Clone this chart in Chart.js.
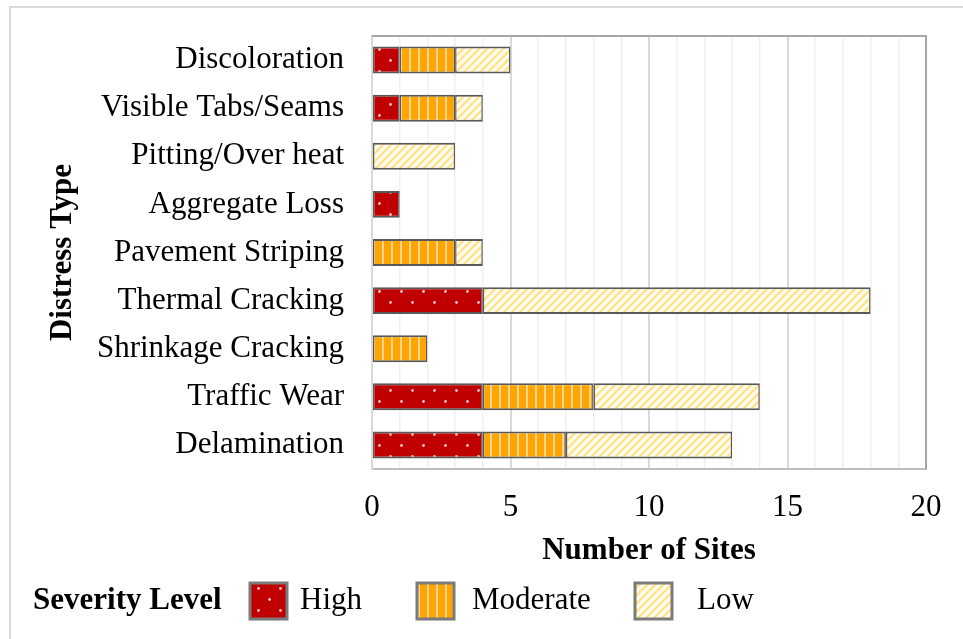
<!DOCTYPE html>
<html>
<head>
<meta charset="utf-8">
<script src="https://cdn.jsdelivr.net/npm/chart.js@4.4.1/dist/chart.umd.min.js"></script>
<style>
  body { margin: 0; background: #fff; }
  canvas { display: block; }
</style>
</head>
<body>
<canvas id="distressChart" width="963" height="639"></canvas>
<script>
// Data
const categories = ['Discoloration', 'Visible Tabs/Seams', 'Pitting/Over heat', 'Aggregate Loss',
    'Pavement Striping', 'Thermal Cracking', 'Shrinkage Cracking', 'Traffic Wear', 'Delamination'];
const highValues = [1, 1, 0, 1, 0, 4, 0, 4, 4];
const moderateValues = [2, 2, 0, 0, 3, 0, 2, 4, 3];
const lowValues = [2, 1, 3, 0, 1, 14, 0, 6, 6];
const severityLabels = ['High', 'Moderate', 'Low'];
const xTickLabels = [0, 5, 10, 15, 20];

const FONT = "'Liberation Serif', 'Times New Roman', serif";

// pattern fills
function makePattern(w, h, draw) {
    const c = document.createElement('canvas');
    c.width = w;
    c.height = h;
    draw(c.getContext('2d'));
    return c.getContext('2d').createPattern(c, 'repeat');
}
const dotsPattern = makePattern(22, 22, g => {
    g.fillStyle = '#c00000';
    g.fillRect(0, 0, 22, 22);
    g.fillStyle = '#f2c0c0';
    [[5.5, 5.5], [16.5, 16.5]].forEach(p => {
        g.beginPath();
        g.arc(p[0], p[1], 1.4, 0, Math.PI * 2);
        g.fill();
    });
});
const stripePattern = makePattern(9, 9, g => {
    g.fillStyle = '#ffa500';
    g.fillRect(0, 0, 9, 9);
    g.fillStyle = '#ffd595';
    g.fillRect(4, 0, 2, 9);
});
const diagPattern = makePattern(8, 8, g => {
    g.fillStyle = '#fffcf0';
    g.fillRect(0, 0, 8, 8);
    g.strokeStyle = '#ffe38f';
    g.lineWidth = 2.5;
    g.beginPath();
    g.moveTo(-2, 10); g.lineTo(10, -2);
    g.moveTo(-2, 2); g.lineTo(2, -2);
    g.moveTo(6, 10); g.lineTo(10, 6);
    g.stroke();
});
const fills = [dotsPattern, stripePattern, diagPattern];
const seriesValues = [highValues, moderateValues, lowValues];

// frame, plot border and legend
const decorations = {
    id: 'decorations',
    beforeDraw(chart) {
        const ctx = chart.ctx;
        ctx.save();
        ctx.fillStyle = '#fff';
        ctx.fillRect(0, 0, chart.width, chart.height);
        ctx.strokeStyle = '#d9d9d9';
        ctx.lineWidth = 2;
        ctx.beginPath();
        ctx.moveTo(10, chart.height + 5);
        ctx.lineTo(10, 7);
        ctx.lineTo(chart.width + 5, 7);
        ctx.stroke();
        ctx.restore();
    },
    beforeDatasetsDraw(chart) {
        const a = chart.chartArea;
        const ctx = chart.ctx;
        ctx.save();
        ctx.strokeStyle = '#a6a6a6';
        ctx.lineWidth = 2;
        ctx.beginPath();
        ctx.moveTo(a.left, a.top);
        ctx.lineTo(a.right, a.top);
        ctx.lineTo(a.right, a.bottom);
        ctx.stroke();
        ctx.restore();
    },
    afterDraw(chart) {
        const ctx = chart.ctx;
        const cy = 601;
        ctx.save();
        ctx.fillStyle = '#000';
        ctx.textBaseline = 'middle';
        ctx.font = 'bold 31px ' + FONT;
        ctx.fillText('Severity Level', 33, cy);
        const boxX = [250, 417, 635];
        const textX = [300, 472, 697];
        ctx.font = '31px ' + FONT;
        chart.data.datasets.forEach((ds, i) => {
            ctx.fillStyle = ds.backgroundColor;
            ctx.fillRect(boxX[i], 583, 37, 36);
            ctx.strokeStyle = '#7a7a7a';
            ctx.lineWidth = 3;
            ctx.strokeRect(boxX[i], 583, 37, 36);
            ctx.fillStyle = '#000';
            ctx.fillText(ds.label, textX[i], cy);
        });
        ctx.restore();
    }
};

Chart.defaults.color = '#000';

new Chart(document.getElementById('distressChart'), {
    type: 'bar',
    data: {
        labels: categories,
        datasets: severityLabels.map((label, i) => ({
            label: label,
            data: seriesValues[i].map(v => v === 0 ? null : v),
            backgroundColor: fills[i],
            borderColor: '#595959',
            borderWidth: { top: 2, bottom: 2, left: 1.5, right: 1.5 },
            borderSkipped: false,
            barPercentage: 0.56,
            categoryPercentage: 1
        }))
    },
    options: {
        indexAxis: 'y',
        responsive: false,
        animation: false,
        devicePixelRatio: 1,
        layout: { padding: { top: 36, right: 37, bottom: 69, left: 44 } },
        plugins: {
            legend: { display: false },
            tooltip: { enabled: false }
        },
        scales: {
            x: {
                stacked: true,
                min: 0,
                max: 20,
                afterFit: s => { s.height = 101; },
                ticks: {
                    stepSize: 1,
                    autoSkip: false,
                    maxRotation: 0,
                    padding: 20,
                    font: { family: FONT, size: 31 },
                    callback: v => xTickLabels.includes(v) ? v : ''
                },
                grid: {
                    drawTicks: false,
                    color: c => xTickLabels.includes(c.tick.value) ? '#d9d9d9' : '#f0f0f0',
                    lineWidth: c => xTickLabels.includes(c.tick.value) ? 2 : 1.5
                },
                border: { color: '#bfbfbf', width: 2 },
                title: {
                    display: true,
                    text: 'Number of Sites',
                    padding: 0,
                    font: { family: FONT, size: 31, weight: 'bold' }
                }
            },
            y: {
                stacked: true,
                afterFit: s => {
                    s.width = 328;
                    s.paddingTop = 0;
                    s.paddingBottom = 0;
                },
                ticks: {
                    padding: 28,
                    font: { family: FONT, size: 31 }
                },
                grid: { display: false, drawTicks: false },
                border: { color: '#d9d9d9', width: 2 },
                title: {
                    display: true,
                    text: 'Distress Type',
                    padding: 0,
                    font: { family: FONT, size: 31, weight: 'bold' }
                }
            }
        }
    },
    plugins: [decorations]
});
</script>
</body>
</html>
